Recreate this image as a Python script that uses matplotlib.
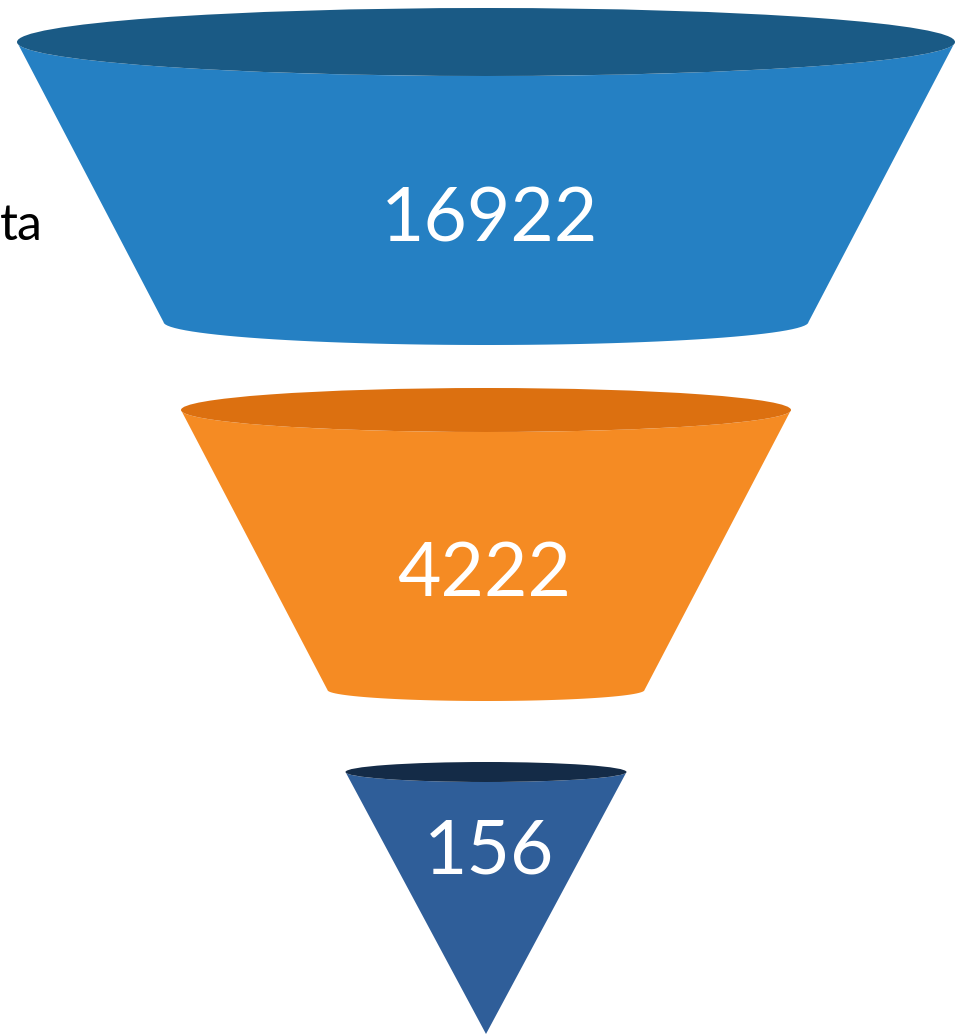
import numpy as np
import matplotlib
matplotlib.use("Agg")
import matplotlib.pyplot as plt
from matplotlib.patches import Polygon, Ellipse

# Data
values = [16922, 4222, 156]
labels = ["16922", "4222", "156"]
side_label = "ta"

# Style / layout (pixel space, y down)
body_colors = ["#2580C3", "#F58B23", "#2F5E99"]
rim_colors = ["#1A5A85", "#DC7010", "#142B47"]
cx = 486
top_y = [42, 410, 772]
top_half_w = [469, 305, 140.5]
top_half_h = [34, 22, 10]
bot_y = [322, 690, 1034]
bot_half_w = [322.5, 158.5, 0]
bot_half_h = [23, 11, 0]
label_x = [490, 484, 489]
label_y = [220, 574, 852]

W, H = 957, 1036
fig = plt.figure(figsize=(W / 100, H / 100), dpi=100)
ax = fig.add_axes([0, 0, 1, 1])
ax.set_xlim(0, W)
ax.set_ylim(H, 0)
ax.axis("off")

for i, v in enumerate(values):
    t = np.linspace(np.pi, 0, 60)
    bx = cx + bot_half_w[i] * np.cos(t)
    by = bot_y[i] + bot_half_h[i] * np.sin(t)
    tx = cx + top_half_w[i] * np.cos(t[::-1])
    ty = top_y[i] + top_half_h[i] * np.sin(t[::-1])
    pts = np.vstack([np.column_stack([bx, by]), np.column_stack([tx, ty])])
    ax.add_patch(Polygon(pts, closed=True, facecolor=body_colors[i], edgecolor="none"))
    ax.add_patch(Ellipse((cx, top_y[i]), 2 * top_half_w[i], 2 * top_half_h[i],
                         facecolor=rim_colors[i], edgecolor="none"))
    ax.text(label_x[i], label_y[i], labels[i], color="white", fontsize=54,
            family="Lato", ha="center", va="center")

ax.text(43, 226, side_label, color="black", fontsize=36, family="Lato",
        ha="right", va="center")

fig.savefig("out.png", dpi=100)
